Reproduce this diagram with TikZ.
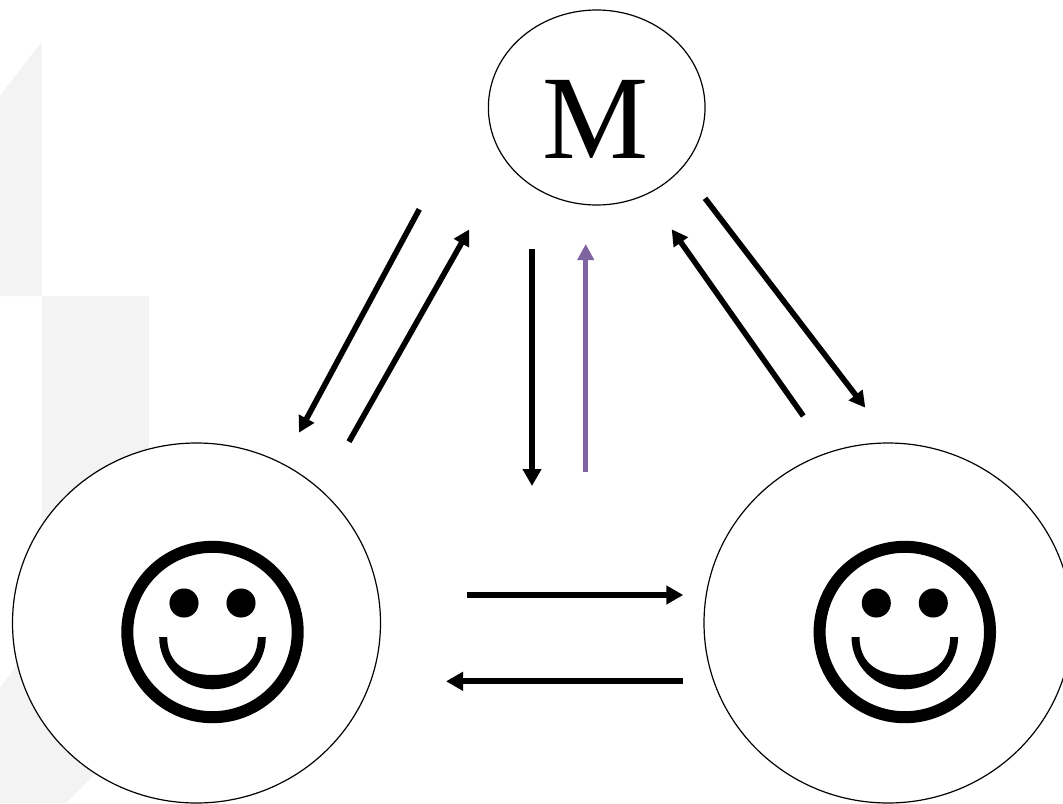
\documentclass[tikz,border=0pt]{standalone}
\usepackage{fontspec}
\setmainfont{Liberation Serif}
\usetikzlibrary{arrows.meta,shapes.geometric}
\definecolor{bggray}{HTML}{F3F3F3}
\definecolor{flowpurple}{HTML}{8064A2}
\tikzset{
  party/.style={draw=black,fill=white,ellipse,line width=0.9pt,inner sep=0pt,minimum width=276pt,minimum height=270pt},
  flow/.style={line width=4.5pt,-{Triangle[length=12.75pt,width=13.5pt]}},
  diagflow/.style={line width=4.2pt,-{Triangle[length=12pt,width=12.5pt]}},
  purpleflow/.style={line width=4.1pt,color=flowpurple,-{Triangle[length=12pt,width=12pt]}},
  backshape/.style={fill=bggray,draw=none},
  smiley/.pic={
    \draw[line width=9pt] (0,0) circle[radius=63.9pt];
    \fill (-28.5,-29) circle[radius=10.9pt];
    \fill (28.5,-29) circle[radius=10.9pt];
    \fill (-53.3,5) .. controls (-53.3,33.9) and (-29.4,57.3) .. (0,57.3)
       .. controls (29.4,57.3) and (53.3,33.9) .. (53.3,5)
       -- (45.3,5) .. controls (45.3,27) and (32,43) .. (0,43)
       .. controls (-32,43) and (-45.3,27) .. (-45.3,5) -- cycle;
  }
}
\begin{document}
\begin{tikzpicture}[x=0.75pt,y=-0.75pt]
\useasboundingbox (0,0) rectangle (1063,803);
\clip (0,0) rectangle (1063,803);
\fill[white] (0,0) rectangle (1063,803);
% faint background shapes
\path[backshape] (0,96) -- (41.5,42) -- (41.5,296) -- (0,296) -- cycle;
\path[backshape] (41.5,296) rectangle (149,560);
\path[backshape] (0,688) -- (60,607) -- (130,740) -- (66,803) -- (0,803) -- cycle;
% parties
\node[party,minimum width=162.5pt,minimum height=146.25pt] (M) at (596.7,107.5) {};
\node[anchor=base,font=\fontsize{89.5pt}{90pt}\selectfont,inner sep=0pt] (Mlabel) at (596,158) {M};
\node[party] (A) at (196.5,623) {};
\node[party] (B) at (888,623) {};
\pic at (212.5,632) {smiley};
\pic at (904.8,632) {smiley};
% connector ends
\coordinate (a1s) at (419.3,209.3); \coordinate (a1e) at (299,432.7);
\coordinate (a2s) at (349,441.7);   \coordinate (a2e) at (469.3,229.3);
\coordinate (b1s) at (705,198.3);   \coordinate (b1e) at (865.3,407.7);
\coordinate (b2s) at (803.3,416);   \coordinate (b2e) at (671.7,229.3);
\coordinate (c1s) at (532,248.5);   \coordinate (c1e) at (532,486);
\coordinate (c2s) at (585.7,471.7); \coordinate (c2e) at (585.7,244);
\coordinate (d1s) at (466.7,595);   \coordinate (d1e) at (683.3,595);
\coordinate (d2s) at (683.3,681.3); \coordinate (d2e) at (446,681.3);
% connectors
\draw[diagflow] (a1s) -- (a1e);
\draw[diagflow] (a2s) -- (a2e);
\draw[diagflow] (b1s) -- (b1e);
\draw[diagflow] (b2s) -- (b2e);
\draw[flow] (c1s) -- (c1e);
\draw[purpleflow] (c2s) -- (c2e);
\draw[flow] (d1s) -- (d1e);
\draw[flow] (d2s) -- (d2e);
\end{tikzpicture}
\end{document}
